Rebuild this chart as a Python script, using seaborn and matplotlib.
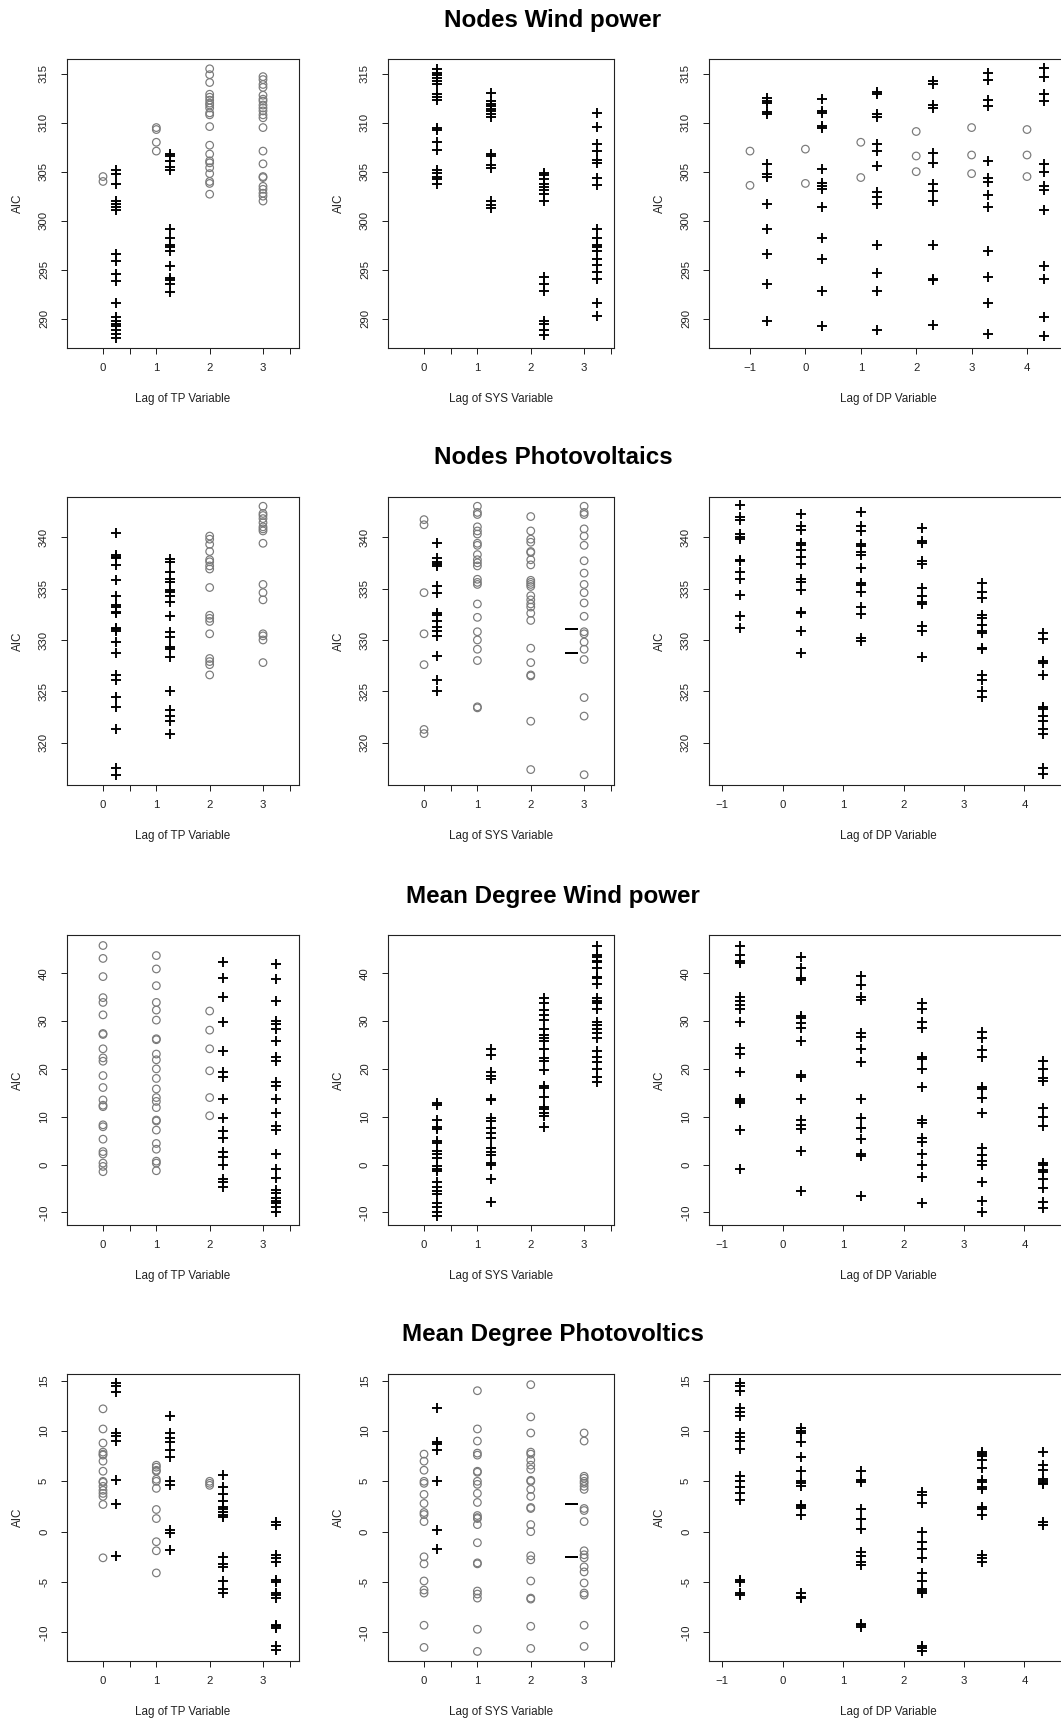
import matplotlib
matplotlib.use("Agg")
import matplotlib.pyplot as plt
import seaborn as sns
import pandas as pd

# ---------------- DATA ----------------
titles = ["Nodes Wind power", "Nodes Photovoltaics", "Mean Degree Wind power", "Mean Degree Photovoltics"]
xlabels = ["Lag of TP Variable", "Lag of SYS Variable", "Lag of DP Variable"]
ylabel = "AIC"

tp_lags = [0, 1, 2, 3]
dp_lags = [-1, 0, 1, 2, 3, 4]
row_yticks = [[290, 295, 300, 305, 310, 315], [320, 325, 330, 335, 340],
              [-10, 0, 10, 20, 30, 40], [-10, -5, 0, 5, 10, 15]]

# Row 1: Nodes Wind power
nwp_tp_circ = {0: [304.5, 304.0],
               1: [309.5, 309.3, 308.0, 307.1],
               2: [315.5, 314.9, 314.1, 312.9, 312.6, 312.3, 312.0, 311.8, 311.5, 311.0, 310.8, 309.6, 307.7,
                   306.8, 306.1, 305.9, 305.4, 304.8, 304.0, 303.8, 302.7],
               3: [314.7, 314.4, 313.9, 313.6, 312.8, 312.4, 312.2, 311.8, 311.5, 311.2, 310.8, 310.5, 309.5,
                   307.1, 305.8, 304.5, 304.4, 303.5, 303.2, 302.8, 302.5, 302.0]}
nwp_tp_plus = {0: [305.2, 304.8, 303.7, 302.0, 301.7, 301.4, 301.1, 296.6, 295.9, 294.6, 293.8, 291.6, 290.2,
                   289.8, 289.5, 289.2, 288.8, 288.4, 288.0],
               1: [306.8, 306.6, 306.1, 305.5, 305.2, 299.1, 298.2, 297.5, 297.3, 296.9, 295.4, 294.1, 293.9,
                   293.5, 292.7]}
nwp_sys_plus = {0: [315.5, 315.1, 314.9, 314.6, 314.3, 313.9, 312.9, 312.6, 312.3, 309.5, 309.3, 308.0, 307.2,
                    305.2, 304.9, 304.5, 304.2, 303.7],
                1: [313.0, 312.2, 311.9, 311.7, 311.4, 311.2, 310.9, 310.6, 306.8, 306.6, 305.7, 305.4, 302.0,
                    301.6, 301.3],
                2: [304.9, 304.7, 304.3, 303.7, 303.4, 303.1, 302.7, 302.0, 294.2, 293.5, 292.8, 289.8, 289.4,
                    288.8, 288.3],
                3: [311.0, 309.6, 307.8, 307.1, 306.2, 305.9, 304.4, 303.6, 299.1, 298.2, 297.5, 297.3, 296.9,
                    296.1, 295.5, 294.8, 294.0, 291.6, 290.3]}
nwp_dp_circ = {-1: [307.1, 303.6], 0: [307.3, 303.8], 1: [308.0, 304.4],
               2: [309.1, 306.6, 305.0], 3: [309.5, 306.7, 304.8], 4: [309.3, 306.7, 304.5]}
nwp_dp_plus = {-1: [312.5, 312.2, 312.0, 311.1, 310.9, 305.8, 304.8, 304.5, 301.7, 299.1, 296.6, 293.5, 289.8],
               0: [312.4, 311.2, 311.0, 309.7, 309.5, 305.3, 303.8, 303.5, 303.2, 301.4, 298.2, 296.1, 292.8, 289.2],
               1: [313.1, 312.9, 310.9, 310.6, 307.8, 307.1, 305.6, 302.9, 302.4, 301.7, 297.5, 294.7, 292.8, 288.8],
               2: [314.3, 313.9, 311.8, 311.5, 306.9, 305.9, 303.7, 303.0, 302.0, 297.5, 294.0, 293.9, 289.3],
               3: [315.1, 314.4, 312.3, 311.7, 306.1, 304.4, 303.9, 302.6, 301.4, 296.9, 294.2, 291.6, 288.4],
               4: [315.6, 314.7, 312.9, 312.2, 305.8, 305.0, 303.5, 303.1, 301.1, 295.4, 294.0, 290.2, 288.2]}

# Row 2: Nodes Photovoltaics
npv_tp_circ = {2: [340.1, 339.8, 339.3, 338.6, 337.8, 337.6, 337.2, 336.9, 335.1, 332.4, 332.1, 331.8, 330.6,
                   328.2, 327.9, 327.6, 326.6],
               3: [343.0, 342.3, 342.1, 341.8, 341.4, 341.0, 340.8, 340.6, 339.4, 335.4, 334.6, 333.9, 330.6,
                   330.4, 330.0, 327.8]}
npv_tp_plus = {0: [340.4, 338.3, 338.1, 338.0, 337.3, 335.8, 334.3, 333.4, 333.2, 332.7, 332.6, 331.2, 331.1,
                   330.9, 329.8, 328.7, 326.6, 326.1, 324.5, 323.5, 321.3, 317.6, 316.9],
               1: [337.9, 337.6, 336.6, 335.9, 335.6, 334.9, 334.7, 334.3, 333.7, 332.3, 330.8, 330.3, 329.3,
                   329.1, 328.3, 325.0, 323.2, 322.6, 322.1, 320.9]}
npv_sys_circ = {0: [341.7, 341.2, 334.6, 330.6, 327.6, 321.3, 320.9],
                1: [343.0, 342.4, 342.2, 341.0, 340.6, 340.3, 339.4, 339.2, 338.3, 337.8, 337.5, 337.2, 335.9,
                    335.6, 335.4, 333.5, 332.2, 330.8, 330.0, 329.1, 328.0, 323.5, 323.4],
                2: [342.0, 340.6, 339.8, 339.5, 338.6, 338.5, 337.8, 337.3, 335.8, 335.6, 335.4, 335.2, 334.3,
                    333.9, 333.5, 333.2, 332.6, 331.9, 329.2, 327.8, 326.6, 326.5, 322.1, 317.4],
                3: [343.0, 342.4, 342.2, 340.8, 340.1, 339.2, 337.7, 336.5, 335.4, 334.6, 333.6, 332.3, 330.8,
                    330.6, 329.8, 329.1, 328.1, 324.4, 322.6, 316.9]}
npv_sys_plus = {0: [339.4, 338.0, 337.6, 337.4, 337.2, 335.2, 334.6, 332.6, 332.4, 331.8, 331.3, 330.9, 330.4,
                    328.4, 326.1, 325.0]}
npv_sys_dash = {3: [331.1, 328.7]}
npv_dp_plus = {-1: [343.1, 342.0, 341.7, 340.3, 340.0, 339.8, 337.8, 337.7, 336.6, 335.9, 334.4, 332.3, 331.2],
               0: [342.2, 341.1, 340.7, 339.4, 339.2, 338.7, 338.1, 337.4, 335.9, 335.6, 334.9, 332.7, 332.6,
                   330.9, 328.7],
               1: [342.4, 341.1, 340.6, 339.3, 339.1, 338.6, 338.3, 337.0, 335.5, 335.3, 334.7, 333.2, 332.5,
                   330.2, 329.9],
               2: [340.9, 339.6, 339.4, 337.7, 337.4, 335.1, 334.3, 333.7, 333.5, 331.4, 330.9, 328.3],
               3: [335.5, 334.7, 334.1, 332.4, 332.1, 331.5, 330.9, 330.7, 329.2, 329.1, 326.6, 326.1, 325.0, 324.5],
               4: [330.7, 330.1, 328.0, 327.8, 326.6, 323.5, 323.3, 322.6, 322.1, 321.3, 320.9, 317.6, 317.0]}

# Row 3: Mean Degree Wind power
mdw_tp_circ = {0: [45.8, 43.1, 39.3, 34.9, 33.9, 31.3, 27.4, 27.2, 24.2, 22.3, 21.6, 18.6, 16.1, 13.5, 12.4,
                   12.1, 8.3, 7.9, 5.3, 2.7, 2.2, 0.3, -0.4, -1.5],
               1: [43.7, 40.9, 37.4, 33.9, 32.3, 30.2, 26.3, 26.1, 23.1, 21.9, 20.0, 18.0, 15.8, 14.0, 13.2,
                   11.9, 9.3, 9.1, 7.2, 4.4, 3.2, 0.7, 0.3, -1.3],
               2: [32.1, 28.1, 24.2, 19.6, 14.0, 10.2]}
mdw_tp_plus = {2: [42.3, 39.1, 35.1, 29.9, 23.8, 19.4, 18.4, 13.8, 9.8, 7.0, 5.5, 2.7, 1.6, -0.2, -3.0, -3.7, -4.8],
               3: [41.9, 38.8, 34.2, 30.0, 29.3, 28.4, 25.8, 22.4, 21.7, 17.2, 16.5, 13.7, 10.7, 8.1, 7.2, 2.1,
                   -1.0, -2.9, -5.3, -6.0, -6.9, -7.6, -8.1, -8.8, -10.0]}
mdw_sys_plus = {0: [12.8, 12.5, 9.3, 7.9, 7.4, 4.9, 4.4, 2.8, 2.1, 1.4, -0.4, -0.9, -1.4, -3.6, -4.8, -5.5, -6.2,
                    -8.1, -8.8, -9.9, -10.7],
                1: [24.2, 22.8, 19.3, 18.6, 17.9, 13.8, 13.5, 9.7, 9.0, 7.7, 6.5, 5.5, 3.5, 2.7, 2.0, 0.3, -0.1,
                    -3.0, -7.8],
                2: [34.9, 33.7, 32.3, 31.3, 30.2, 28.4, 27.1, 26.5, 25.8, 24.2, 22.2, 21.7, 19.8, 16.5, 15.9,
                    14.2, 12.1, 11.6, 10.7, 10.2, 7.9],
                3: [45.8, 43.8, 43.3, 42.6, 42.3, 41.0, 39.3, 39.0, 37.7, 34.9, 34.2, 33.7, 32.5, 29.9, 29.2,
                    28.4, 27.4, 26.4, 23.8, 22.4, 21.5, 20.0, 18.2, 17.3]}
mdw_dp_plus = {-1: [45.8, 43.8, 42.6, 42.1, 35.1, 34.2, 33.4, 32.5, 29.9, 24.4, 23.1, 19.4, 13.7, 13.2, 12.8, 7.2, -1.0],
               0: [43.3, 41.0, 39.1, 38.6, 31.1, 30.6, 29.7, 28.5, 25.8, 18.8, 18.4, 13.8, 9.3, 8.3, 7.4, 2.8, -5.5],
               1: [39.5, 37.6, 35.1, 34.4, 27.4, 26.7, 24.2, 21.4, 13.8, 9.7, 7.7, 5.3, 2.1, 1.8, -6.5],
               2: [33.7, 32.5, 29.9, 28.5, 22.4, 22.1, 20.0, 16.3, 9.3, 8.6, 5.5, 4.8, 2.1, -0.2, -2.7, -8.1],
               3: [27.7, 26.4, 24.0, 22.4, 16.3, 15.8, 14.0, 10.7, 3.5, 2.0, 0.8, 0.0, -3.6, -7.6, -10.0],
               4: [21.7, 20.0, 18.0, 17.5, 11.9, 10.0, 8.1, 0.4, 0.0, -1.1, -1.5, -3.0, -5.0, -7.9, -9.0]}

# Row 4: Mean Degree Photovoltics
mdp_tp_circ = {0: [12.2, 10.2, 8.8, 7.9, 7.7, 7.6, 7.0, 6.0, 5.0, 4.9, 4.5, 4.1, 3.8, 3.5, 2.7, -2.6],
               1: [6.6, 6.4, 6.1, 6.0, 5.2, 5.0, 4.3, 2.2, 1.3, -1.0, -1.9, -4.1],
               2: [5.0, 4.8, 4.6]}
mdp_tp_plus = {0: [14.8, 14.5, 13.9, 9.8, 9.5, 9.0, 5.1, 2.7, -2.4],
               1: [11.5, 9.8, 9.3, 8.9, 8.1, 7.4, 5.0, 4.6, 0.2, -0.1, -1.8],
               2: [5.6, 4.4, 3.7, 3.0, 2.4, 2.2, 2.0, 1.7, 1.5, -2.5, -3.2, -3.5, -4.9, -5.7, -6.1],
               3: [1.0, 0.7, -2.3, -2.6, -3.0, -4.8, -5.0, -6.1, -6.3, -6.6, -9.3, -9.4, -9.6, -11.4, -11.8]}
mdp_sys_circ = {0: [7.7, 7.0, 6.1, 5.0, 4.8, 3.7, 2.8, 1.9, 1.7, 1.0, -2.5, -3.2, -4.9, -5.8, -6.1, -9.3, -11.5],
                1: [14.0, 10.2, 9.0, 7.8, 7.6, 6.0, 5.9, 5.0, 4.7, 3.8, 2.9, 1.6, 1.4, 1.3, 0.7, -1.1, -3.1, -3.2,
                    -5.9, -6.2, -6.6, -9.7, -11.9],
                2: [14.6, 11.4, 9.8, 7.9, 7.7, 7.1, 6.6, 6.2, 5.1, 5.0, 4.2, 3.5, 2.4, 2.3, 0.7, 0.0, -2.4, -2.8,
                    -4.9, -6.6, -6.7, -9.4, -11.6],
                3: [9.8, 9.0, 5.5, 5.3, 5.0, 4.8, 4.5, 4.2, 2.3, 2.1, 1.0, -1.9, -2.3, -2.6, -3.5, -4.0, -5.1,
                    -6.1, -6.3, -9.3, -11.4]}
mdp_sys_plus = {0: [12.3, 8.9, 8.7, 8.1, 5.0, 0.2, -1.7]}
mdp_sys_dash = {3: [2.7, -2.5]}
mdp_dp_plus = {-1: [14.8, 14.5, 14.0, 12.3, 11.9, 11.5, 9.8, 9.4, 9.0, 8.2, 5.5, 5.0, 4.4, 3.8, 3.1, -4.8, -5.0,
                    -6.1, -6.3],
               0: [10.3, 10.0, 9.8, 8.9, 7.4, 6.0, 5.0, 4.8, 4.5, 2.6, 2.5, 2.3, 1.7, -6.1, -6.5, -6.6],
               1: [6.0, 5.1, 4.9, 2.2, 1.3, 0.3, -2.0, -2.4, -3.0, -3.3, -9.2, -9.3, -9.5],
               2: [3.9, 3.6, 2.8, 0.0, -1.0, -1.7, -2.6, -4.1, -4.9, -5.7, -5.9, -6.1, -11.4, -11.6, -11.9],
               3: [7.9, 7.7, 7.5, 7.1, 6.3, 5.1, 4.9, 4.4, 4.2, 2.4, 2.2, 1.7, -2.3, -2.6, -3.0],
               4: [7.9, 6.6, 6.1, 5.2, 5.0, 4.8, 4.7, 1.0, 0.7]}

# ---------------- LAYOUT / STYLE ----------------
W, H, DPI = 1061, 1722, 100
sns.set_style("white")
plt.rcParams["font.family"] = ["Liberation Sans", "DejaVu Sans"]
PX = 72.0 / DPI  # points per pixel

col_px = [(67, 299), (388, 614), (709, 1068)]
row_px = [(59, 348), (497, 785), (935, 1225), (1374, 1661)]
title_y = [20, 458, 896, 1334]
row_ylim = [(287.0, 316.5), (315.9, 343.9), (-12.65, 48.0), (-12.85, 15.66)]
col_xlim = [(-0.675, 3.675), (-0.675, 3.56), None]
dp_xlim_first = (-1.74, 4.74)
dp_xlim_other = (-1.22, 4.72)

CIRC_COLOR = "#7a7a7a"

fig = plt.figure(figsize=(W / DPI, H / DPI), dpi=DPI)
fig.patch.set_facecolor("white")


def to_df(groups, offset):
    rows = []
    for lag, vals in groups.items():
        for v in vals:
            rows.append((lag + offset, v))
    return pd.DataFrame(rows, columns=["lag", "AIC"])


panels = [
    [(nwp_tp_circ, nwp_tp_plus, None), ({}, nwp_sys_plus, None), (nwp_dp_circ, nwp_dp_plus, None)],
    [(npv_tp_circ, npv_tp_plus, None), (npv_sys_circ, npv_sys_plus, npv_sys_dash), ({}, npv_dp_plus, None)],
    [(mdw_tp_circ, mdw_tp_plus, None), ({}, mdw_sys_plus, None), ({}, mdw_dp_plus, None)],
    [(mdp_tp_circ, mdp_tp_plus, None), (mdp_sys_circ, mdp_sys_plus, mdp_sys_dash), ({}, mdp_dp_plus, None)],
]

for r in range(4):
    y0, y1 = row_px[r]
    for c in range(3):
        x0, x1 = col_px[c]
        ax = fig.add_axes([x0 / W, 1 - y1 / H, (x1 - x0) / W, (y1 - y0) / H])
        circ, plus, dash = panels[r][c]
        off = 0.3 if c == 2 else 0.25
        if circ:
            sns.scatterplot(data=to_df(circ, 0.0), x="lag", y="AIC", ax=ax, marker="o",
                            s=(7.6 * PX) ** 2, facecolor="none", edgecolor=CIRC_COLOR,
                            linewidth=1.0 * PX * 1.2, legend=False, zorder=3)
        if plus:
            sns.scatterplot(data=to_df(plus, off), x="lag", y="AIC", ax=ax, marker="+",
                            s=(10.5 * PX) ** 2, color="black", linewidth=1.9 * PX,
                            legend=False, zorder=4)
        if dash:
            sns.scatterplot(data=to_df(dash, -0.25), x="lag", y="AIC", ax=ax, marker="_",
                            s=(13 * PX) ** 2, color="black", linewidth=2.0 * PX,
                            legend=False, zorder=4)

        ax.set_ylim(*row_ylim[r])
        ax.set_yticks(row_yticks[r])
        ax.set_yticklabels([str(t) for t in row_yticks[r]])
        if c < 2:
            ax.set_xlim(*col_xlim[c])
            ax.set_xticks([0, 0.5, 1, 2, 3, 3.5])
            ax.set_xticklabels(["0", "", "1", "2", "3", ""])
        else:
            ax.set_xlim(*(dp_xlim_first if r == 0 else dp_xlim_other))
            ax.set_xticks(dp_lags)
            ax.set_xticklabels([f"\u2212{-t}" if t < 0 else str(t) for t in dp_lags])

        ax.grid(False)
        for sp in ax.spines.values():
            sp.set_visible(True)
            sp.set_color("#222222")
            sp.set_linewidth(1.0 * PX * 1.1)
        ax.tick_params(axis="both", direction="out", length=6 * PX, width=1.0 * PX,
                       color="#222222", labelsize=8.2, labelcolor="#222222",
                       bottom=True, left=True, top=False, right=False)
        ax.tick_params(axis="x", pad=9 * PX)
        ax.tick_params(axis="y", pad=12 * PX)
        for lab in ax.get_yticklabels():
            lab.set_rotation(90)
            lab.set_va("center")
            lab.set_ha("right")

        wpx = x1 - x0
        hpx = y1 - y0
        ax.set_xlabel(xlabels[c], fontsize=8.4, color="#222222", va="center")
        ax.xaxis.set_label_coords(0.5 if c < 2 else (888 - x0) / wpx, -51 / hpx)
        ax.set_ylabel(ylabel, fontsize=8.4, color="#222222", va="center")
        ax.yaxis.set_label_coords(-49 / wpx, 0.5)

    fig.text(553 / W, 1 - title_y[r] / H, titles[r], ha="center", va="center",
             fontsize=17.4, fontweight="bold", color="black")

fig.savefig("out.png", dpi=DPI, facecolor="white")
